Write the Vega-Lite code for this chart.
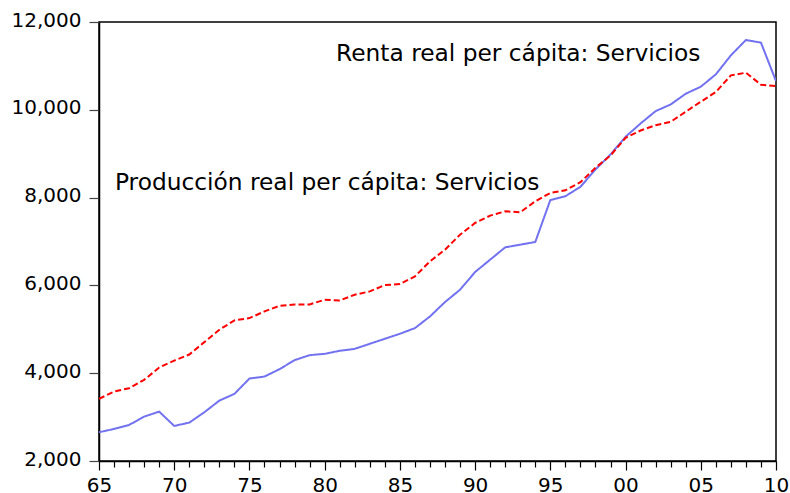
{
  "$schema": "https://vega.github.io/schema/vega-lite/v6.json",
  "width": 677,
  "height": 439,
  "autosize": {"type": "none"},
  "padding": {"left": 99, "top": 22, "right": 14, "bottom": 32},
  "background": "white",
  "config": {
    "view": {"stroke": "black", "strokeWidth": 1.5},
    "axis": {
      "labelFont": "DejaVu Sans",
      "labelFontSize": 20,
      "labelColor": "black",
      "domainColor": "black",
      "domainWidth": 1.5,
      "grid": false,
      "title": null
    }
  },
  "layer": [
    {
      "data": {
        "values": [
          {"year": 1965, "s": "Renta", "v": 2655}, {"year": 1966, "s": "Renta", "v": 2730}, {"year": 1967, "s": "Renta", "v": 2821},
          {"year": 1968, "s": "Renta", "v": 3011}, {"year": 1969, "s": "Renta", "v": 3125}, {"year": 1970, "s": "Renta", "v": 2799},
          {"year": 1971, "s": "Renta", "v": 2874}, {"year": 1972, "s": "Renta", "v": 3110}, {"year": 1973, "s": "Renta", "v": 3376},
          {"year": 1974, "s": "Renta", "v": 3529}, {"year": 1975, "s": "Renta", "v": 3878}, {"year": 1976, "s": "Renta", "v": 3924},
          {"year": 1977, "s": "Renta", "v": 4092}, {"year": 1978, "s": "Renta", "v": 4297}, {"year": 1979, "s": "Renta", "v": 4411},
          {"year": 1980, "s": "Renta", "v": 4441}, {"year": 1981, "s": "Renta", "v": 4510}, {"year": 1982, "s": "Renta", "v": 4555},
          {"year": 1983, "s": "Renta", "v": 4670}, {"year": 1984, "s": "Renta", "v": 4784}, {"year": 1985, "s": "Renta", "v": 4898},
          {"year": 1986, "s": "Renta", "v": 5027}, {"year": 1987, "s": "Renta", "v": 5293}, {"year": 1988, "s": "Renta", "v": 5621},
          {"year": 1989, "s": "Renta", "v": 5902}, {"year": 1990, "s": "Renta", "v": 6305}, {"year": 1991, "s": "Renta", "v": 6586},
          {"year": 1992, "s": "Renta", "v": 6867}, {"year": 1993, "s": "Renta", "v": 6928}, {"year": 1994, "s": "Renta", "v": 6989},
          {"year": 1995, "s": "Renta", "v": 7945}, {"year": 1996, "s": "Renta", "v": 8031}, {"year": 1997, "s": "Renta", "v": 8245},
          {"year": 1998, "s": "Renta", "v": 8640}, {"year": 1999, "s": "Renta", "v": 8982}, {"year": 2000, "s": "Renta", "v": 9385},
          {"year": 2001, "s": "Renta", "v": 9689}, {"year": 2002, "s": "Renta", "v": 9970}, {"year": 2003, "s": "Renta", "v": 10122},
          {"year": 2004, "s": "Renta", "v": 10366}, {"year": 2005, "s": "Renta", "v": 10526}, {"year": 2006, "s": "Renta", "v": 10807},
          {"year": 2007, "s": "Renta", "v": 11240}, {"year": 2008, "s": "Renta", "v": 11590}, {"year": 2009, "s": "Renta", "v": 11530},
          {"year": 2010, "s": "Renta", "v": 10654},
          {"year": 1965, "s": "Prod", "v": 3415}, {"year": 1966, "s": "Prod", "v": 3582}, {"year": 1967, "s": "Prod", "v": 3658},
          {"year": 1968, "s": "Prod", "v": 3848}, {"year": 1969, "s": "Prod", "v": 4129}, {"year": 1970, "s": "Prod", "v": 4288},
          {"year": 1971, "s": "Prod", "v": 4425}, {"year": 1972, "s": "Prod", "v": 4708}, {"year": 1973, "s": "Prod", "v": 4989},
          {"year": 1974, "s": "Prod", "v": 5202}, {"year": 1975, "s": "Prod", "v": 5255}, {"year": 1976, "s": "Prod", "v": 5407},
          {"year": 1977, "s": "Prod", "v": 5536}, {"year": 1978, "s": "Prod", "v": 5566}, {"year": 1979, "s": "Prod", "v": 5566},
          {"year": 1980, "s": "Prod", "v": 5673}, {"year": 1981, "s": "Prod", "v": 5658}, {"year": 1982, "s": "Prod", "v": 5787},
          {"year": 1983, "s": "Prod", "v": 5863}, {"year": 1984, "s": "Prod", "v": 6008}, {"year": 1985, "s": "Prod", "v": 6031},
          {"year": 1986, "s": "Prod", "v": 6205}, {"year": 1987, "s": "Prod", "v": 6547}, {"year": 1988, "s": "Prod", "v": 6814},
          {"year": 1989, "s": "Prod", "v": 7156}, {"year": 1990, "s": "Prod", "v": 7422}, {"year": 1991, "s": "Prod", "v": 7589},
          {"year": 1992, "s": "Prod", "v": 7688}, {"year": 1993, "s": "Prod", "v": 7665}, {"year": 1994, "s": "Prod", "v": 7916},
          {"year": 1995, "s": "Prod", "v": 8107}, {"year": 1996, "s": "Prod", "v": 8167}, {"year": 1997, "s": "Prod", "v": 8350},
          {"year": 1998, "s": "Prod", "v": 8678}, {"year": 1999, "s": "Prod", "v": 8959}, {"year": 2000, "s": "Prod", "v": 9362},
          {"year": 2001, "s": "Prod", "v": 9529}, {"year": 2002, "s": "Prod", "v": 9650}, {"year": 2003, "s": "Prod", "v": 9727},
          {"year": 2004, "s": "Prod", "v": 9955}, {"year": 2005, "s": "Prod", "v": 10184}, {"year": 2006, "s": "Prod", "v": 10404},
          {"year": 2007, "s": "Prod", "v": 10784}, {"year": 2008, "s": "Prod", "v": 10845}, {"year": 2009, "s": "Prod", "v": 10572},
          {"year": 2010, "s": "Prod", "v": 10541}
        ]
      },
      "mark": {"type": "line", "strokeWidth": 2, "clip": true},
      "encoding": {
        "x": {
          "field": "year", "type": "quantitative",
          "scale": {"domain": [1965, 2010], "nice": false, "zero": false},
          "axis": {
            "values": [1965,1966,1967,1968,1969,1970,1971,1972,1973,1974,1975,1976,1977,1978,1979,1980,1981,1982,1983,1984,1985,1986,1987,1988,1989,1990,1991,1992,1993,1994,1995,1996,1997,1998,1999,2000,2001,2002,2003,2004,2005,2006,2007,2008,2009,2010],
            "tickCount": 100,
            "labelExpr": "datum.value % 5 == 0 ? slice(toString(datum.value), 2) : ''",
            "labelOverlap": false,
            "labelFlush": false,
            "labelBound": false,
            "labelPadding": 5,
            "tickColor": "black",
            "tickWidth": 1.2,
            "tickSize": {"condition": {"test": "datum.value % 5 == 0", "value": 9}, "value": 6}
          }
        },
        "y": {
          "field": "v", "type": "quantitative",
          "scale": {"domain": [2000, 12000], "nice": false, "zero": false},
          "axis": {
            "values": [2000, 4000, 6000, 8000, 10000, 12000],
            "format": ",d",
            "tickSize": 10,
            "tickColor": "#444444",
            "tickWidth": 1.2,
            "labelPadding": 8,
            "labelOffset": -2
          }
        },
        "color": {
          "field": "s", "type": "nominal",
          "scale": {"domain": ["Renta", "Prod"], "range": ["#7272f0", "#ff0000"]},
          "legend": null
        },
        "strokeDash": {
          "field": "s", "type": "nominal",
          "scale": {"domain": ["Renta", "Prod"], "range": [[1, 0], [6, 3]]},
          "legend": null
        },
        "strokeWidth": {
          "field": "s", "type": "nominal",
          "scale": {"domain": ["Renta", "Prod"], "range": [2, 1.5]},
          "legend": null
        }
      }
    },
    {
      "data": {
        "values": [
          {"year": 1980.76, "v": 11103, "label": "Renta real per cápita: Servicios"},
          {"year": 1966.06, "v": 8183, "label": "Producción real per cápita: Servicios"}
        ]
      },
      "mark": {"type": "text", "align": "left", "baseline": "alphabetic", "font": "DejaVu Sans", "fontSize": 23.3, "color": "black"},
      "encoding": {
        "x": {"field": "year", "type": "quantitative"},
        "y": {"field": "v", "type": "quantitative"},
        "text": {"field": "label"}
      }
    }
  ]
}
